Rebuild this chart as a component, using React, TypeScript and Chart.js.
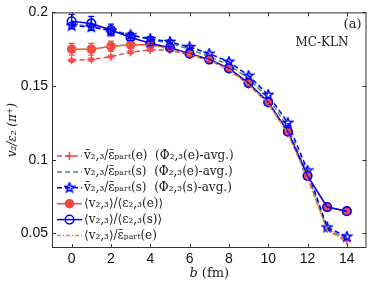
import React, { useEffect, useRef } from "react";
import { Chart, registerables } from "chart.js";

Chart.register(...registerables);

const bValues = [0, 1, 2, 3, 4, 5, 6, 7, 8, 9, 10, 11, 12, 13, 14];
const xTicks = [0, 2, 4, 6, 8, 10, 12, 14];
const yTicks = [0.05, 0.1, 0.15, 0.2];

const redPlus = [0.1675, 0.168, 0.170, 0.173, 0.1745, 0.1745, 0.171, 0.1675, 0.161, 0.151, 0.138, 0.118, 0.088, 0.053, 0.045];
const greenDash = [0.192, 0.1905, 0.188, 0.185, 0.1815, 0.179, 0.175, 0.170, 0.1645, 0.155, 0.142, 0.122, 0.090, 0.053, 0.046];
const blueStar = [0.191, 0.190, 0.1875, 0.1845, 0.182, 0.180, 0.1765, 0.172, 0.1665, 0.157, 0.144, 0.125, 0.0926, 0.054, 0.0477];
const redCircle = [0.175, 0.175, 0.177, 0.178, 0.178, 0.176, 0.172, 0.168, 0.162, 0.152, 0.139, 0.119, 0.089, 0.0678, 0.065];
const blueCircle = [0.194, 0.1925, 0.188, 0.183, 0.179, 0.176, 0.172, 0.168, 0.162, 0.152, 0.139, 0.119, 0.089, 0.0678, 0.065];
const orangeDashDot = [0.175, 0.175, 0.177, 0.178, 0.1775, 0.1755, 0.1715, 0.1675, 0.1615, 0.151, 0.1385, 0.118, 0.087, 0.052, 0.044];

const redCircleErr = [0.004, 0.004, 0.0035, 0.002, 0.0015, 0.001, 0, 0, 0, 0, 0, 0, 0, 0, 0];
const blueCircleErr = [0.0047, 0.0047, 0.004, 0.002, 0.0015, 0.001, 0, 0, 0, 0, 0, 0, 0, 0, 0];
const blueStarErr = [0.002, 0.002, 0.002, 0.002, 0.0015, 0.0012, 0.001, 0, 0, 0, 0, 0, 0, 0, 0];
const redPlusErr = [0.001, 0.001, 0.001, 0.001, 0.001, 0, 0, 0, 0, 0, 0, 0, 0, 0, 0];

const labels = [
  "v\u0304\u2082,\u2083/\u03b5\u0304\u209a\u2090\u1d63\u209c(e)  (\u03a6\u2082,\u2083(e)-avg.)",
  "v\u2082,\u2083/\u03b5\u0304\u209a\u2090\u1d63\u209c(s)  (\u03a6\u2082,\u2083(e)-avg.)",
  "v\u0304\u2082,\u2083/\u03b5\u0304\u209a\u2090\u1d63\u209c(s)  (\u03a6\u2082,\u2083(s)-avg.)",
  "\u27e8v\u2082,\u2083\u27e9/\u27e8\u03b5\u2082,\u2083(e)\u27e9",
  "\u27e8v\u2082,\u2083\u27e9/\u27e8\u03b5\u2082,\u2083(s)\u27e9",
  "\u27e8v\u2082,\u2083\u27e9/\u03b5\u0304\u209a\u2090\u1d63\u209c(e)",
];

const RED = "rgb(245,70,70)";
const BLUE = "rgb(0,0,255)";
const GREEN = "rgb(60,150,90)";
const ORANGE = "rgb(225,140,40)";

function makeStar(size: number, color: string): HTMLCanvasElement {
  const c = document.createElement("canvas");
  c.width = size;
  c.height = size;
  const ctx = c.getContext("2d")!;
  const cx = size / 2, cy = size / 2, R = size / 2 - 1, r = R * 0.42;
  ctx.beginPath();
  for (let i = 0; i < 10; i++) {
    const a = -Math.PI / 2 + (i * Math.PI) / 5;
    const rad = i % 2 === 0 ? R : r;
    const px = cx + rad * Math.cos(a), py = cy + rad * Math.sin(a);
    if (i === 0) ctx.moveTo(px, py); else ctx.lineTo(px, py);
  }
  ctx.closePath();
  ctx.strokeStyle = color;
  ctx.lineWidth = 1.5;
  ctx.stroke();
  return c;
}

const pts = (arr: number[]) => bValues.map((b, i) => ({ x: b, y: arr[i] }));

export default function App() {
  const ref = useRef<HTMLCanvasElement | null>(null);

  useEffect(() => {
    document.body.style.margin = "0";
    const star = makeStar(12, BLUE);
    const errs: Record<number, number[]> = { 0: redPlusErr, 2: blueStarErr, 3: redCircleErr, 4: blueCircleErr };

    const overlay = {
      id: "overlay",
      afterDatasetsDraw(chart: any) {
        const { ctx, scales } = chart;
        const xs = scales.x, ys = scales.y;
        ctx.save();
        Object.keys(errs).forEach((k) => {
          const di = Number(k);
          const ds = chart.data.datasets[di];
          const e = errs[di];
          ctx.strokeStyle = ds.borderColor;
          ctx.lineWidth = 1.3;
          ds.data.forEach((p: any, i: number) => {
            if (!e[i]) return;
            const px = xs.getPixelForValue(p.x);
            const y1 = ys.getPixelForValue(p.y + e[i]);
            const y2 = ys.getPixelForValue(p.y - e[i]);
            ctx.beginPath();
            ctx.moveTo(px, y1); ctx.lineTo(px, y2);
            ctx.moveTo(px - 3, y1); ctx.lineTo(px + 3, y1);
            ctx.moveTo(px - 3, y2); ctx.lineTo(px + 3, y2);
            ctx.stroke();
          });
        });
        ctx.restore();
      },
      afterDraw(chart: any) {
        const { ctx, chartArea: a, scales } = chart;
        const xs = scales.x, ys = scales.y;
        ctx.save();
        ctx.strokeStyle = "#333";
        ctx.lineWidth = 1;
        ctx.strokeRect(a.left + 0.5, a.top + 0.5, a.right - a.left - 1, a.bottom - a.top - 1);
        ctx.beginPath();
        xTicks.forEach((t) => {
          const px = Math.round(xs.getPixelForValue(t)) + 0.5;
          ctx.moveTo(px, a.bottom); ctx.lineTo(px, a.bottom - 4);
          ctx.moveTo(px, a.top); ctx.lineTo(px, a.top + 4);
        });
        yTicks.forEach((t) => {
          const py = Math.round(ys.getPixelForValue(t)) + 0.5;
          ctx.moveTo(a.left, py); ctx.lineTo(a.left + 4, py);
          ctx.moveTo(a.right, py); ctx.lineTo(a.right - 4, py);
        });
        ctx.stroke();

        ctx.fillStyle = "#222";
        ctx.font = "13px 'DejaVu Serif'";
        ctx.textAlign = "right";
        ctx.textBaseline = "middle";
        ctx.fillText("(a)", a.right - 5, 25);
        ctx.font = "12px 'DejaVu Serif'";
        ctx.fillText("MC-KLN", a.right - 18, 43);

        const ds = chart.data.datasets;
        const lx0 = 57, lx1 = 82, ly0 = 156, dy = 15.9;
        ds.forEach((d: any, i: number) => {
          const y = ly0 + i * dy;
          ctx.strokeStyle = d.borderColor;
          ctx.lineWidth = 1.5;
          ctx.setLineDash(d.borderDash || []);
          ctx.beginPath();
          ctx.moveTo(lx0, y); ctx.lineTo(lx1, y);
          ctx.stroke();
          ctx.setLineDash([]);
          const cx = (lx0 + lx1) / 2;
          if (d.pointStyle === "circle" && d.pointRadius > 0) {
            ctx.beginPath();
            ctx.arc(cx, y, d.pointRadius, 0, Math.PI * 2);
            if (d.pointBackgroundColor && d.pointBackgroundColor !== "rgba(0,0,0,0)") {
              ctx.fillStyle = d.pointBackgroundColor;
              ctx.fill();
            }
            ctx.stroke();
          } else if (d.pointStyle === "cross") {
            ctx.beginPath();
            ctx.moveTo(cx - 4, y); ctx.lineTo(cx + 4, y);
            ctx.moveTo(cx, y - 4); ctx.lineTo(cx, y + 4);
            ctx.stroke();
          } else if (d.pointStyle instanceof HTMLCanvasElement) {
            ctx.drawImage(d.pointStyle, cx - 6, y - 6);
          }
          ctx.fillStyle = "#222";
          ctx.font = "12px 'DejaVu Serif'";
          ctx.textAlign = "left";
          ctx.textBaseline = "middle";
          ctx.fillText(d.label, 84, y);
        });

        ctx.fillStyle = "#222";
        ctx.textBaseline = "middle";
        const cxT = (a.left + a.right) / 2;
        ctx.font = "italic 13px 'DejaVu Serif'";
        const bw = ctx.measureText("b ").width;
        ctx.font = "13px 'DejaVu Serif'";
        const fw = ctx.measureText("(fm)").width;
        const start = cxT - (bw + fw) / 2;
        ctx.textAlign = "left";
        ctx.font = "italic 13px 'DejaVu Serif'";
        ctx.fillText("b ", start, 274);
        ctx.font = "13px 'DejaVu Serif'";
        ctx.fillText("(fm)", start + bw, 274);

        ctx.translate(13, (a.top + a.bottom) / 2);
        ctx.rotate(-Math.PI / 2);
        ctx.textAlign = "center";
        ctx.font = "italic 12px 'DejaVu Serif'";
        ctx.fillText("v\u2082/\u03b5\u2082 (\u03c0\u207a)", 0, 0);
        ctx.restore();
      },
    };

    const chart = new Chart(ref.current!, {
      type: "line",
      data: {
        datasets: [
          {
            label: labels[0], data: pts(redPlus), borderColor: RED, borderWidth: 1.5,
            borderDash: [5, 3], pointStyle: "cross", pointRadius: 4, pointBorderColor: RED,
            pointBorderWidth: 1.5, fill: false, order: 5,
          },
          {
            label: labels[1], data: pts(greenDash), borderColor: GREEN, borderWidth: 1.5,
            borderDash: [5, 3], pointRadius: 0, pointStyle: "line", fill: false, order: 4,
          },
          {
            label: labels[2], data: pts(blueStar), borderColor: BLUE, borderWidth: 1.5,
            borderDash: [5, 3], pointStyle: star as any, pointRadius: 6, fill: false, order: 3,
          },
          {
            label: labels[3], data: pts(redCircle), borderColor: RED, borderWidth: 1.5,
            pointStyle: "circle", pointRadius: 4, pointBackgroundColor: RED, pointBorderColor: RED,
            fill: false, order: 2,
          },
          {
            label: labels[4], data: pts(blueCircle), borderColor: BLUE, borderWidth: 1.5,
            pointStyle: "circle", pointRadius: 4.3, pointBackgroundColor: "rgba(0,0,0,0)",
            pointBorderColor: BLUE, pointBorderWidth: 1.6, fill: false, order: 1,
          },
          {
            label: labels[5], data: pts(orangeDashDot), borderColor: ORANGE, borderWidth: 1.3,
            borderDash: [4, 2, 1, 2], pointRadius: 0, pointStyle: "line", fill: false, order: 0,
          },
        ],
      },
      options: {
        animation: false,
        responsive: false,
        maintainAspectRatio: false,
        layout: { padding: { top: 11, right: 5, left: 0, bottom: 0 } },
        plugins: { legend: { display: false }, tooltip: { enabled: false } },
        scales: {
          x: {
            type: "linear", min: -1, max: 15,
            grid: { display: false, drawTicks: false },
            border: { display: false },
            afterFit: (s: any) => { s.height = 37; },
            afterBuildTicks: (s: any) => { s.ticks = xTicks.map((v) => ({ value: v })); },
            ticks: { color: "#111", font: { family: "'Liberation Sans'", size: 14 }, padding: 3, maxRotation: 0 },
          },
          y: {
            type: "linear", min: 0.04, max: 0.2,
            grid: { display: false, drawTicks: false },
            border: { display: false },
            afterFit: (s: any) => { s.width = 52; },
            afterBuildTicks: (s: any) => { s.ticks = yTicks.map((v) => ({ value: v })); },
            ticks: {
              color: "#111", font: { family: "'Liberation Sans'", size: 14 }, padding: 4,
              callback: (v: any) => String(Number(v)),
            },
          },
        },
      },
      plugins: [overlay],
    } as any);
    return () => chart.destroy();
  }, []);

  return <canvas ref={ref} width={374} height={285} style={{ display: "block" }} />;
}
